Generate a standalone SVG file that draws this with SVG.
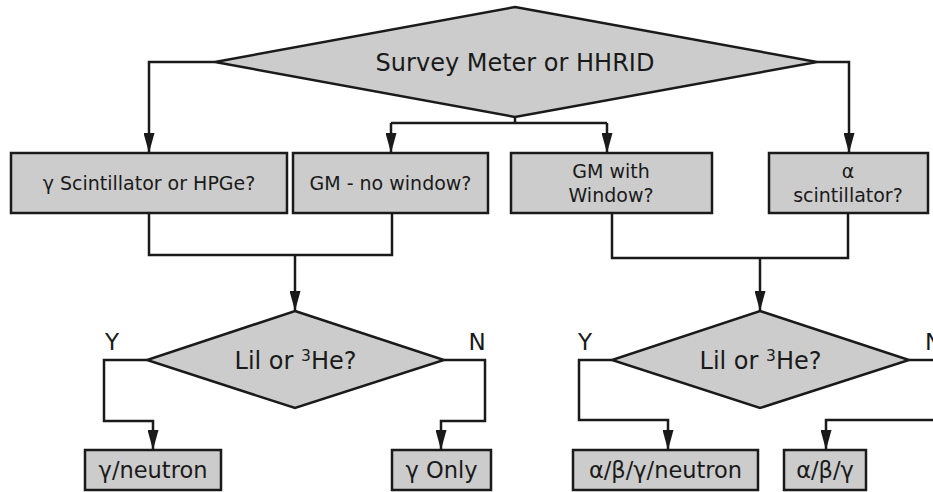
<svg xmlns="http://www.w3.org/2000/svg" width="933" height="492" viewBox="0 0 933 492">
  <style>
    .shape { fill: #cccccc; stroke: #1a1a1a; stroke-width: 2.5; stroke-linejoin: miter; }
    .wire { fill: none; stroke: #1a1a1a; stroke-width: 2.5; }
    .arrow { marker-end: url(#head); }
    text { font-family: "DejaVu Sans", Verdana, sans-serif; fill: #1a1a1a; }
    .t-top { font-size: 19px; text-anchor: middle; }
    .t-big { font-size: 24px; text-anchor: middle; }
    .t-out { font-size: 22.5px; text-anchor: middle; }
    .t-yn { font-size: 23px; }
  </style>
  <defs>
    <!-- solid downward-pointing arrowhead, tip on the line end -->
    <marker id="head" viewBox="0 0 20 11" refX="20" refY="5.5" markerWidth="20" markerHeight="11" markerUnits="userSpaceOnUse" orient="auto">
      <path d="M0,0 L20,5.5 L0,11 Z" fill="#1a1a1a"/>
    </marker>
  </defs>
  <rect width="933" height="492" fill="#ffffff"/>

  <!-- connectors -->
  <g id="connectors">
    <!-- from the top decision -->
    <path class="wire arrow" d="M215,62 H149 V153"/>
    <path class="wire arrow" d="M817,62 H849 V153"/>
    <path class="wire" d="M515,117 V123 M391,123 H607"/>
    <path class="wire arrow" d="M391,123 V153"/>
    <path class="wire arrow" d="M607,123 V153"/>
    <!-- merge into the left Lil/3He decision -->
    <path class="wire" d="M149,213 V255 H392 V213"/>
    <path class="wire arrow" d="M295,255 V311"/>
    <!-- merge into the right Lil/3He decision -->
    <path class="wire" d="M612,213 V258 H848 V213"/>
    <path class="wire arrow" d="M760,258 V311"/>
    <!-- left decision outcomes -->
    <path class="wire arrow" d="M147,360 H104 V421 H153 V450"/>
    <path class="wire arrow" d="M444,360 H485 V421 H441 V450"/>
    <!-- right decision outcomes -->
    <path class="wire arrow" d="M612,360 H579 V420 H668 V450"/>
    <path class="wire" d="M909,360 H940"/>
    <path class="wire arrow" d="M940,420 H826 V450"/>
  </g>

  <g id="survey-meter">
    <polygon class="shape" points="515,7 817,62 515,117 215,62"/>
    <text class="t-big" x="515" y="71">Survey Meter or HHRID</text>
  </g>

  <g id="gamma-scint">
    <rect class="shape" x="11" y="153" width="276" height="60"/>
    <text class="t-top" x="149" y="190">γ Scintillator or HPGe?</text>
  </g>

  <g id="gm-no-window">
    <rect class="shape" x="293" y="153" width="195" height="60"/>
    <text class="t-top" x="390.5" y="190">GM - no window?</text>
  </g>

  <g id="gm-window">
    <rect class="shape" x="511" y="153" width="201" height="60"/>
    <text class="t-top" x="611" y="178">GM with</text>
    <text class="t-top" x="611" y="202">Window?</text>
  </g>

  <g id="alpha-scint">
    <rect class="shape" x="769" y="153" width="159" height="60"/>
    <text class="t-top" x="848" y="178">α</text>
    <text class="t-top" x="848" y="202">scintillator?</text>
  </g>

  <g id="lil-he-left">
    <polygon class="shape" points="295,311 444,360 295,408 147,360"/>
    <text class="t-big" x="295.5" y="369">Lil or <tspan font-size="15.5" dy="-8.5">3</tspan><tspan dy="8.5">He?</tspan></text>
    <text class="t-yn" x="112" y="350" text-anchor="middle">Y</text>
    <text class="t-yn" x="477" y="350" text-anchor="middle">N</text>
  </g>

  <g id="lil-he-right">
    <polygon class="shape" points="760,311 909,360 760,408 612,360"/>
    <text class="t-big" x="760.5" y="369">Lil or <tspan font-size="15.5" dy="-8.5">3</tspan><tspan dy="8.5">He?</tspan></text>
    <text class="t-yn" x="585" y="350" text-anchor="middle">Y</text>
    <text class="t-yn" x="925" y="350">N</text>
  </g>

  <g id="gamma-neutron">
    <rect class="shape" x="85" y="450" width="136" height="40"/>
    <text class="t-out" x="153" y="478">γ/neutron</text>
  </g>

  <g id="gamma-only">
    <rect class="shape" x="392" y="450" width="99" height="40"/>
    <text class="t-out" x="441.5" y="478">γ Only</text>
  </g>

  <g id="abg-neutron">
    <rect class="shape" x="573" y="450" width="185" height="40"/>
    <text class="t-out" x="665.5" y="478">α/β/γ/neutron</text>
  </g>

  <g id="abg">
    <rect class="shape" x="784" y="450" width="82" height="40"/>
    <text class="t-out" x="825" y="478">α/β/γ</text>
  </g>
</svg>
